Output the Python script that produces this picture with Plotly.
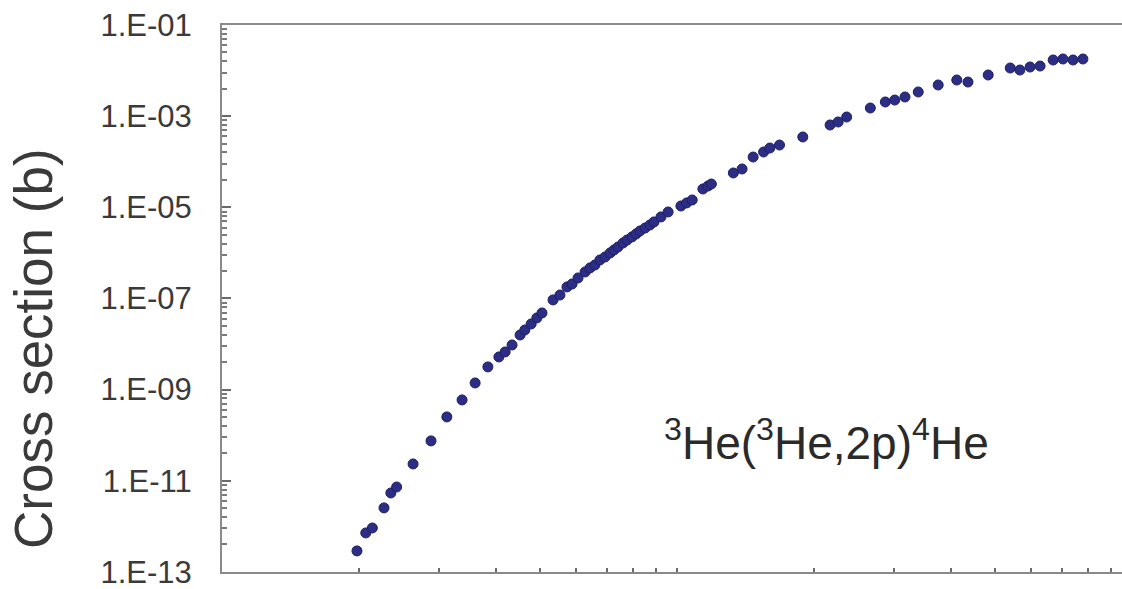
import plotly.graph_objects as go

# Centre-of-mass energy (keV) and cross section (barn) for 3He(3He,2p)4He
energy_kev = [
    19.8, 20.7, 21.4, 22.7, 23.5, 24.2, 26.3, 28.8, 31.2, 33.7,
    36.0, 38.4, 40.6, 41.9, 43.4, 45.2, 46.3, 47.8, 49.2, 50.5,
    53.4, 55.3, 57.3, 58.8, 60.6, 62.8, 64.4, 66.0, 67.7, 69.5,
    71.3, 72.7, 74.2, 76.1, 77.7, 79.6, 81.3, 82.9, 85.1, 87.2,
    89.0, 92.2, 95.6, 102, 105, 108, 114, 117, 119, 133,
    139, 147, 155, 160, 168, 189, 217, 226, 236, 266,
    287, 301, 317, 339, 375, 412, 436, 483, 540, 567,
    597, 628, 671, 705, 742, 780,
]
cross_section_b = [
    2.89e-13, 7.17e-13, 9.2e-13, 2.54e-12, 5.4e-12, 7.3e-12, 2.34e-11, 7.5e-11, 2.52e-10, 5.94e-10,
    1.40e-9, 3.15e-9, 5.21e-9, 6.71e-9, 9.55e-9, 1.58e-8, 2.04e-8, 2.76e-8, 3.74e-8, 4.81e-8,
    9.3e-8, 1.19e-7, 1.79e-7, 2.08e-7, 2.82e-7, 3.82e-7, 4.68e-7, 5.43e-7, 7.0e-7, 8.15e-7,
    9.98e-7, 1.16e-6, 1.35e-6, 1.65e-6, 1.92e-6, 2.24e-6, 2.61e-6, 3.03e-6, 3.52e-6, 4.10e-6,
    4.78e-6, 6.15e-6, 7.91e-6, 1.07e-5, 1.25e-5, 1.45e-5, 2.53e-5, 2.94e-5, 3.25e-5, 5.68e-5,
    6.95e-5, 1.27e-4, 1.64e-4, 2.0e-4, 2.33e-4, 3.50e-4, 6.41e-4, 7.46e-4, 9.6e-4, 1.51e-3,
    2.05e-3, 2.26e-3, 2.64e-3, 3.40e-3, 4.84e-3, 6.22e-3, 5.62e-3, 8.02e-3, 1.14e-2, 1.03e-2,
    1.20e-2, 1.26e-2, 1.71e-2, 1.80e-2, 1.71e-2, 1.80e-2,
]

# y axis: labelled every two decades, minor marks at m^2 steps inside each interval
y_major = [1e-13, 1e-11, 1e-9, 1e-7, 1e-5, 1e-3, 1e-1]
y_labels = ["1.E-13", "1.E-11", "1.E-09", "1.E-07", "1.E-05", "1.E-03", "1.E-01"]
y_minor = [v * m * m for v in y_major[:-1] for m in range(2, 10)]

# x axis: unlabelled log ticks
x_ticks = [20, 30, 40, 50, 60, 70, 80, 90, 100, 200, 300, 400, 500, 600, 700, 800, 900]

reaction_label = "<sup>3</sup>He(<sup>3</sup>He,2p)<sup>4</sup>He"
y_title = "Cross section (b)"

FONT = "Liberation Sans, Arial, sans-serif"
AXIS_GREY = "#8a8a8a"
TEXT_GREY = "#3a3a3a"

fig = go.Figure(
    go.Scatter(
        x=energy_kev,
        y=cross_section_b,
        mode="markers",
        marker=dict(size=10, color="#2c2d84", line=dict(width=1, color="#1e1f66")),
        hoverinfo="x+y",
    )
)

fig.update_xaxes(
    type="log",
    range=[1, 1 + 900 / 455],
    showline=True,
    linecolor=AXIS_GREY,
    linewidth=2,
    mirror=True,
    ticks="inside",
    ticklen=4,
    tickwidth=2,
    tickcolor="#6a6a6a",
    tickmode="array",
    tickvals=x_ticks,
    showticklabels=False,
    showgrid=False,
    zeroline=False,
)

fig.update_yaxes(
    type="log",
    range=[-13.002, -0.999],
    showline=True,
    linecolor=AXIS_GREY,
    linewidth=2,
    mirror=False,
    ticks="inside",
    ticklen=9,
    tickwidth=2,
    tickcolor="#6a6a6a",
    tickmode="array",
    tickvals=y_major,
    ticktext=y_labels,
    tickfont=dict(family=FONT, size=31, color=TEXT_GREY),
    ticklabelstandoff=22,
    ticklabeloverflow="allow",
    minor=dict(
        tickmode="array",
        tickvals=y_minor,
        ticks="inside",
        ticklen=5,
        tickwidth=2,
        tickcolor="#7a7a7a",
        showgrid=False,
    ),
    showgrid=False,
    zeroline=False,
)

fig.add_annotation(
    text=y_title,
    textangle=-90,
    xref="paper",
    yref="paper",
    x=(34 - 222) / 900,
    y=(572 - 349) / 547,
    xanchor="center",
    yanchor="middle",
    showarrow=False,
    font=dict(family=FONT, size=53, color=TEXT_GREY),
)

fig.add_annotation(
    text=reaction_label,
    xref="paper",
    yref="paper",
    x=(826 - 222) / 900,
    y=(572 - 440) / 547,
    xanchor="center",
    yanchor="middle",
    showarrow=False,
    font=dict(family=FONT, size=46, color="#2a2a2a"),
)

fig.update_layout(
    width=1122,
    height=589,
    margin=dict(l=222, r=0, t=25, b=17),
    paper_bgcolor="white",
    plot_bgcolor="white",
    showlegend=False,
)

fig.write_html("out.html")
